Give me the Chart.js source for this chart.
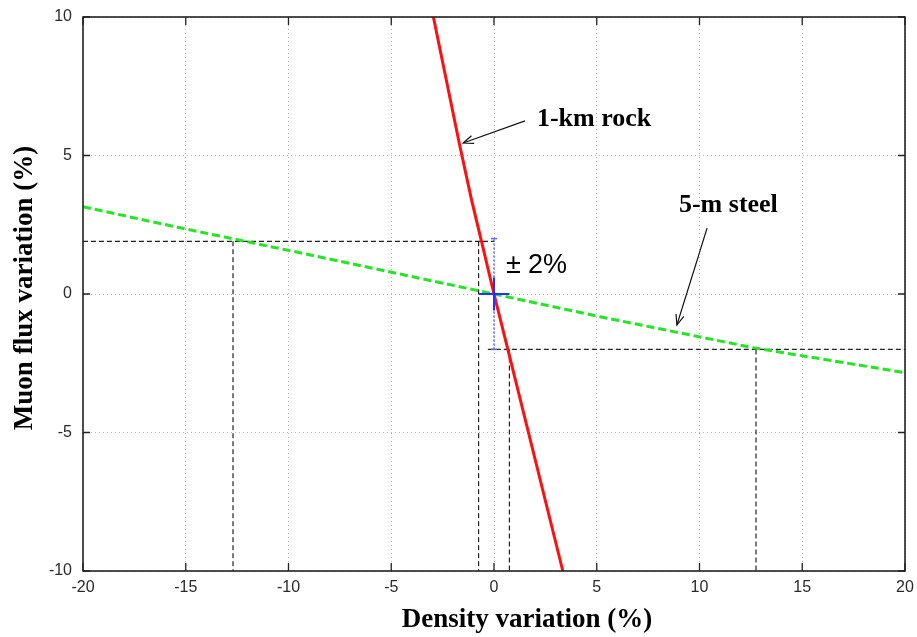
<!DOCTYPE html>
<html><head><meta charset="utf-8">
<script src="https://cdn.jsdelivr.net/npm/chart.js@4.4.0/dist/chart.umd.min.js"></script>
<style>html,body{margin:0;padding:0;background:#fff;overflow:hidden}#wrap{width:917px;height:637px;position:relative}</style>
</head><body><div id="wrap"><canvas id="c" width="917" height="637"></canvas></div>
<script>
// ---- data ----
const rockX  = [-2.95, -1.69, -1.09, -0.6, 0, 0.67, 3.35];
const rockY  = [10, 5.44, 3.39, 1.87, 0, -1.99, -10];
const steelX = [-20, -15.28, -9.44, -4.57, 0, 5.16, 12.62, 20];
const steelY = [3.15, 2.39, 1.49, 0.72, 0, -0.82, -1.94, -2.84];
const xTickValues = [-20, -15, -10, -5, 0, 5, 10, 15, 20];
const yTickValues = [-10, -5, 0, 5, 10];
const guideUpperY = 1.9;
const guideLowerY = -2.0;
const guideUpperX = [-20, 0];
const guideLowerX = [-0.3, 20];
const guideVertUpperX = [-12.7, -0.75];
const guideVertLowerX = [0.75, 12.75];
const errBarY = [-2, 2];
const errCapX = [-0.15, 0.15];
const errSolidY = [-0.6, 0.6];
const errSolidX = [-0.75, 0.75];
const labelRock = {text: '1-km rock', x: 2.09, y: 6.32, tailX: 1.51, tailY: 6.25, tipX: -1.5, tipY: 5.45};
const labelSteel = {text: '5-m steel', x: 9.0, y: 3.21, tailX: 10.37, tailY: 2.38, tipX: 8.9, tipY: -1.12};
const labelErr = {sign: '±', text: '2%', x: 0.58, y: 1.01};
const xTitle = 'Density variation (%)';
const yTitle = 'Muon flux variation (%)';

const pts = (xs, ys) => xs.map((x, i) => ({x, y: ys[i]}));
const seg = (x1, y1, x2, y2) => [{x: x1, y: y1}, {x: x2, y: y2}];
const yMin = yTickValues[0];

const guideStyle = {borderColor: '#222', borderWidth: 1.2, borderDash: [5, 3], pointRadius: 0, showLine: true, fill: false, order: 5};
const datasets = [
  Object.assign({label: 'guide-up-h', data: seg(guideUpperX[0], guideUpperY, guideUpperX[1], guideUpperY)}, guideStyle),
  Object.assign({label: 'guide-lo-h', data: seg(guideLowerX[0], guideLowerY, guideLowerX[1], guideLowerY)}, guideStyle),
  ...guideVertUpperX.map(x => Object.assign({label: 'guide-v', data: seg(x, guideUpperY, x, yMin)}, guideStyle)),
  ...guideVertLowerX.map(x => Object.assign({label: 'guide-v', data: seg(x, guideLowerY, x, yMin)}, guideStyle)),
  {label: '5-m steel', data: pts(steelX, steelY), borderColor: '#22e622', borderWidth: 3, borderDash: [8, 4], pointRadius: 0, showLine: true, tension: 0, order: 4},
  {label: '1-km rock', data: pts(rockX, rockY), borderColor: '#ff1010', borderWidth: 3, pointRadius: 0, showLine: true, tension: 0, order: 3},
  {label: 'err-dotted', data: seg(0, errBarY[0], 0, errBarY[1]), borderColor: '#5566ff', borderWidth: 1.5, borderDash: [2, 2], pointRadius: 0, showLine: true, order: 2},
  {label: 'err-cap-top', data: seg(errCapX[0], errBarY[1], errCapX[1], errBarY[1]), borderColor: '#5566ff', borderWidth: 1.5, pointRadius: 0, showLine: true, order: 2},
  {label: 'err-cap-bot', data: seg(errCapX[0], errBarY[0], errCapX[1], errBarY[0]), borderColor: '#5566ff', borderWidth: 1.5, pointRadius: 0, showLine: true, order: 2},
  {label: 'err-solid-v', data: seg(0, errSolidY[0], 0, errSolidY[1]), borderColor: '#2233ff', borderWidth: 2, pointRadius: 0, showLine: true, order: 1},
  {label: 'err-solid-h', data: seg(errSolidX[0], 0, errSolidX[1], 0), borderColor: '#2233ff', borderWidth: 2, pointRadius: 0, showLine: true, order: 1}
];

function arrow(ctx, x1, y1, x2, y2) {
  ctx.save();
  ctx.strokeStyle = '#111'; ctx.lineWidth = 1.2;
  ctx.beginPath(); ctx.moveTo(x1, y1); ctx.lineTo(x2, y2); ctx.stroke();
  const a = Math.atan2(y2 - y1, x2 - x1), L = 11, w = 0.38;
  ctx.beginPath();
  ctx.moveTo(x2 - L * Math.cos(a - w), y2 - L * Math.sin(a - w));
  ctx.lineTo(x2, y2);
  ctx.lineTo(x2 - L * Math.cos(a + w), y2 - L * Math.sin(a + w));
  ctx.stroke();
  ctx.restore();
}

const decor = {
  id: 'decor',
  afterDraw(chart) {
    const {ctx, chartArea: a, scales: {x, y}} = chart;
    ctx.save();
    // frame
    ctx.strokeStyle = '#222'; ctx.lineWidth = 1.6;
    ctx.strokeRect(a.left, a.top, a.right - a.left, a.bottom - a.top);
    // inward ticks (mirrored)
    ctx.lineWidth = 1.3;
    ctx.beginPath();
    xTickValues.forEach(v => { const p = x.getPixelForValue(v);
      ctx.moveTo(p, a.bottom); ctx.lineTo(p, a.bottom - 8);
      ctx.moveTo(p, a.top); ctx.lineTo(p, a.top + 8); });
    yTickValues.forEach(v => { const p = y.getPixelForValue(v);
      ctx.moveTo(a.left, p); ctx.lineTo(a.left + 7, p);
      ctx.moveTo(a.right, p); ctx.lineTo(a.right - 7, p); });
    ctx.stroke();
    // annotations
    ctx.fillStyle = '#000';
    ctx.textBaseline = 'middle'; ctx.textAlign = 'left';
    ctx.font = 'bold 26px "Liberation Serif", "Times New Roman", serif';
    [labelRock, labelSteel].forEach(l => {
      ctx.fillText(l.text, x.getPixelForValue(l.x), y.getPixelForValue(l.y));
      arrow(ctx, x.getPixelForValue(l.tailX), y.getPixelForValue(l.tailY), x.getPixelForValue(l.tipX), y.getPixelForValue(l.tipY));
    });
    ctx.font = '27px "Liberation Sans", Arial, sans-serif';
    const ex = x.getPixelForValue(labelErr.x), ey = y.getPixelForValue(labelErr.y);
    ctx.fillText(labelErr.sign, ex, ey);
    ctx.fillText(labelErr.text, ex + 22, ey);
    // axis titles
    ctx.font = 'bold 27px "Liberation Serif", "Times New Roman", serif';
    ctx.textAlign = 'center';
    ctx.fillText(xTitle, 527, 620, 258);
    ctx.translate(25, 288);
    ctx.rotate(-Math.PI / 2);
    ctx.fillText(yTitle, 0, 0, 296);
    ctx.restore();
  }
};

const tickFont = {family: '"Liberation Sans", Arial, sans-serif', size: 16};
new Chart(document.getElementById('c'), {
  type: 'scatter',
  data: {datasets},
  options: {
    responsive: false, animation: false, devicePixelRatio: 1,
    layout: {padding: {top: 17, right: 12, left: 0, bottom: 0}},
    plugins: {legend: {display: false}, tooltip: {enabled: false}},
    scales: {
      x: {type: 'linear', min: xTickValues[0], max: xTickValues[xTickValues.length - 1],
        afterFit: s => { s.height = 66; s.paddingLeft = 0; s.paddingRight = 0; },
        afterBuildTicks: s => { s.ticks = xTickValues.map(v => ({value: v})); },
        ticks: {font: tickFont, color: '#2a2a2a', padding: 7, maxRotation: 0, autoSkip: false},
        grid: {color: '#b5b5b5', lineWidth: 1, drawTicks: false},
        border: {display: false, dash: [1, 3]}},
      y: {type: 'linear', min: yTickValues[0], max: yTickValues[yTickValues.length - 1],
        afterFit: s => { s.width = 83; s.paddingTop = 0; s.paddingBottom = 0; },
        afterBuildTicks: s => { s.ticks = yTickValues.map(v => ({value: v})); },
        ticks: {font: tickFont, color: '#2a2a2a', padding: 11},
        grid: {color: '#b5b5b5', lineWidth: 1, drawTicks: false},
        border: {display: false, dash: [1, 3]}}
    }
  },
  plugins: [decor]
});
</script></body></html>
